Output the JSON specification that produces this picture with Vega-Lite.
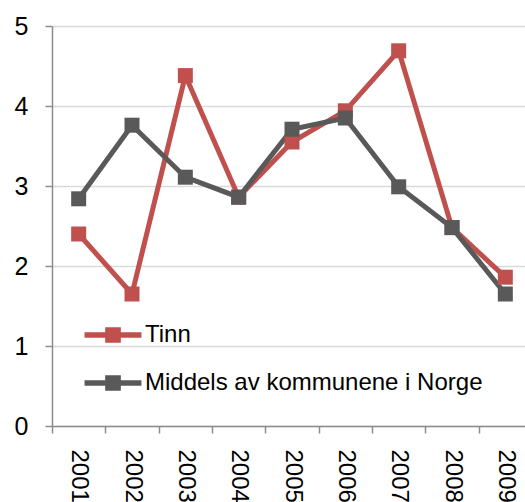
{
  "$schema": "https://vega.github.io/schema/vega-lite/v6.json",
  "autosize": "none",
  "padding": {"left": 52, "top": 26, "right": 0, "bottom": 76},
  "width": 480,
  "height": 400,
  "background": "white",
  "config": {
    "view": {"stroke": null},
    "font": "Liberation Sans"
  },
  "data": {
    "values": [
      {"year": "2001", "series": "Tinn", "value": 2.4},
      {"year": "2002", "series": "Tinn", "value": 1.65},
      {"year": "2003", "series": "Tinn", "value": 4.38},
      {"year": "2004", "series": "Tinn", "value": 2.86},
      {"year": "2005", "series": "Tinn", "value": 3.55},
      {"year": "2006", "series": "Tinn", "value": 3.94},
      {"year": "2007", "series": "Tinn", "value": 4.69},
      {"year": "2008", "series": "Tinn", "value": 2.48},
      {"year": "2009", "series": "Tinn", "value": 1.86},
      {"year": "2001", "series": "Middels av kommunene i Norge", "value": 2.84},
      {"year": "2002", "series": "Middels av kommunene i Norge", "value": 3.76},
      {"year": "2003", "series": "Middels av kommunene i Norge", "value": 3.11},
      {"year": "2004", "series": "Middels av kommunene i Norge", "value": 2.86},
      {"year": "2005", "series": "Middels av kommunene i Norge", "value": 3.71},
      {"year": "2006", "series": "Middels av kommunene i Norge", "value": 3.85},
      {"year": "2007", "series": "Middels av kommunene i Norge", "value": 2.99},
      {"year": "2008", "series": "Middels av kommunene i Norge", "value": 2.48},
      {"year": "2009", "series": "Middels av kommunene i Norge", "value": 1.65}
    ]
  },
  "encoding": {
    "x": {
      "field": "year",
      "type": "ordinal",
      "scale": {"paddingInner": 0, "paddingOuter": 0},
      "axis": {
        "title": null,
        "labelAngle": 90,
        "labelFontSize": 24,
        "labelColor": "black",
        "labelPadding": 16,
        "tickBand": "extent",
        "tickSize": 7,
        "tickColor": "#8c8c8c",
        "domainColor": "#8c8c8c",
        "domainWidth": 1.5,
        "tickWidth": 1.5,
        "grid": false
      }
    },
    "y": {
      "field": "value",
      "type": "quantitative",
      "scale": {"domain": [0, 5], "nice": false},
      "axis": {
        "title": null,
        "values": [0, 1, 2, 3, 4, 5],
        "labelFontSize": 25,
        "labelColor": "black",
        "labelPadding": 17,
        "tickSize": 7,
        "tickColor": "#8c8c8c",
        "domainColor": "#8c8c8c",
        "domainWidth": 1.5,
        "tickWidth": 1.5,
        "grid": true,
        "gridColor": "#d9d9d9",
        "gridWidth": 1.5
      }
    },
    "color": {
      "field": "series",
      "type": "nominal",
      "scale": {
        "domain": ["Tinn", "Middels av kommunene i Norge"],
        "range": ["#C0504D", "#595959"]
      },
      "legend": {
        "title": null,
        "orient": "none",
        "legendX": 47,
        "legendY": 295,
        "padding": 0,
        "symbolType": "M-2.07,-0.2H2.07V0.2H-2.07Z M-0.57,-0.57H0.57V0.57H-0.57Z",
        "symbolSize": 756,
        "symbolStrokeWidth": 0,
        "labelFontSize": 24,
        "labelColor": "black",
        "labelOffset": 18,
        "labelLimit": 500,
        "rowPadding": 22,
        "encode": {
          "symbols": {
            "update": {
              "fill": {"scale": "color", "field": "value"},
              "fillOpacity": {"value": 1},
              "strokeWidth": {"value": 0}
            }
          }
        }
      }
    }
  },
  "mark": {
    "type": "line",
    "strokeWidth": 5,
    "point": {"shape": "square", "filled": true, "size": 225, "opacity": 1}
  }
}
